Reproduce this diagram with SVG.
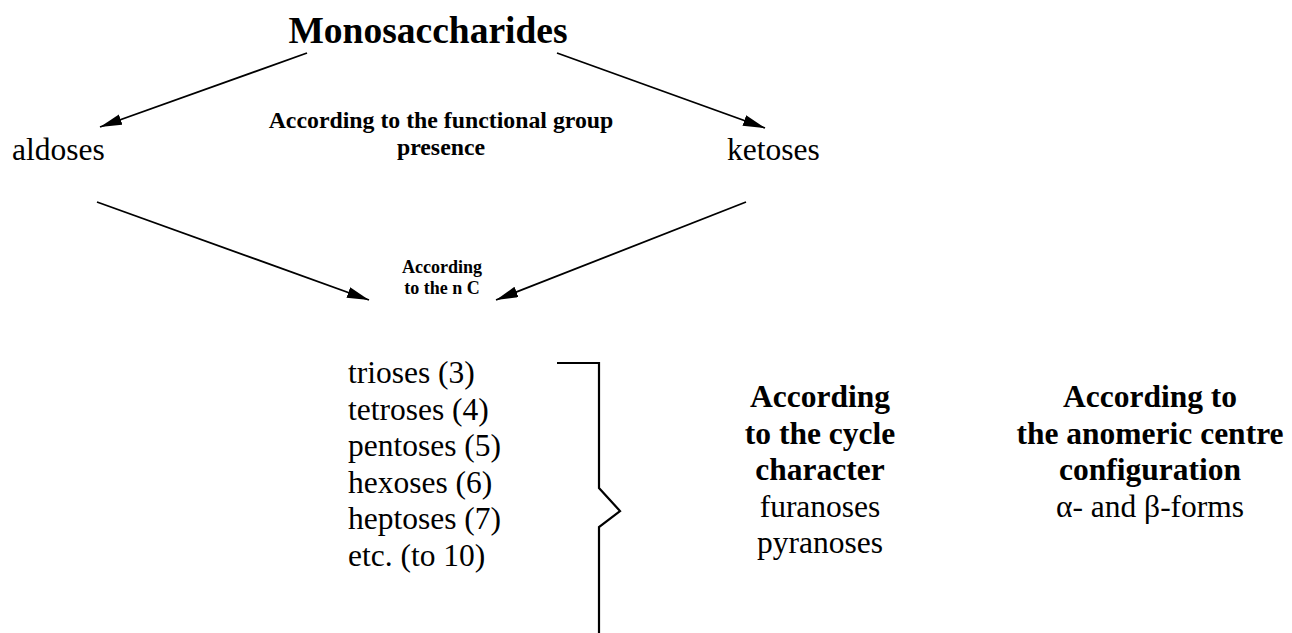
<svg xmlns="http://www.w3.org/2000/svg" width="1292" height="633" viewBox="0 0 1292 633">
<style>
text{font-family:"Liberation Serif","Times New Roman",serif;fill:#000}
.b{font-weight:bold}
.r{font-size:31.5px}
.c{text-anchor:middle}
.conn line{stroke:#000;stroke-width:1.8;fill:none}
.br{stroke:#000;stroke-width:2.2;fill:none}
</style>
<defs>
<marker id="ah" markerUnits="userSpaceOnUse" markerWidth="24" markerHeight="12" refX="22" refY="5.5" orient="auto">
<path d="M0,0 L22,5.5 L0,11 z" fill="#000"/>
</marker>
</defs>
<rect width="1292" height="633" fill="#fff"/>
<g id="monosaccharides"><text class="b c" x="428" y="43" font-size="37.5">Monosaccharides</text></g>
<g id="label-functional"><text class="b c" x="441" y="128" font-size="23.8">According to the functional group</text><text class="b c" x="441" y="155" font-size="23.8">presence</text></g>
<g id="aldoses"><text class="r" x="12" y="160">aldoses</text></g>
<g id="ketoses"><text class="r" x="727" y="160">ketoses</text></g>
<g id="label-nC"><text class="b c" x="442" y="273" font-size="18">According</text><text class="b c" x="442" y="294" font-size="18">to the n C</text></g>
<g id="list"><text class="r" x="348" y="383">trioses (3)</text><text class="r" x="348" y="419.5">tetroses (4)</text><text class="r" x="348" y="456">pentoses (5)</text><text class="r" x="348" y="492.5">hexoses (6)</text><text class="r" x="348" y="529">heptoses (7)</text><text class="r" x="348" y="565.5">etc. (to 10)</text></g>
<g id="bracket"><path class="br" d="M557,363 H599 V488 L620,511 L599,527 V633"/></g>
<g id="cycle"><text class="b c r" x="820" y="407">According</text><text class="b c r" x="820" y="443.5">to the cycle</text><text class="b c r" x="820" y="480">character</text><text class="c r" x="820" y="516.5">furanoses</text><text class="c r" x="820" y="553">pyranoses</text></g>
<g id="anomeric"><text class="b c r" x="1150" y="407">According to</text><text class="b c r" x="1150" y="443.5">the anomeric centre</text><text class="b c r" x="1150" y="480">configuration</text><text class="c r" x="1150" y="516.5">α- and β-forms</text></g>
<g id="connectors" class="conn">
<line x1="307" y1="53" x2="100" y2="127" marker-end="url(#ah)"/>
<line x1="557" y1="53" x2="765" y2="128" marker-end="url(#ah)"/>
<line x1="97" y1="202" x2="369" y2="300" marker-end="url(#ah)"/>
<line x1="746" y1="202" x2="496" y2="300" marker-end="url(#ah)"/>
</g>
</svg>
